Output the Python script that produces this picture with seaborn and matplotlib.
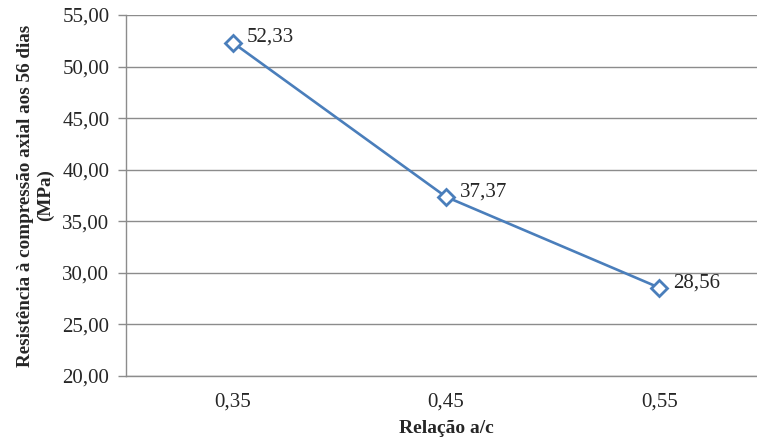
import matplotlib
matplotlib.use("Agg")
import matplotlib.pyplot as plt
import seaborn as sns
import pandas as pd

# Water/cement ratio categories and 56-day axial compressive strength (MPa)
relacao = ["0,35", "0,45", "0,55"]
resistencia = [52.33, 37.37, 28.56]
y_ticks = [20, 25, 30, 35, 40, 45, 50, 55]

df = pd.DataFrame({"pos": range(len(relacao)), "relacao": relacao, "resistencia": resistencia})

sns.set_style("white")
plt.rcParams["font.family"] = ["Liberation Serif", "DejaVu Serif"]

W, H = 757, 440
fig = plt.figure(figsize=(W / 100, H / 100), dpi=100)
ax = fig.add_axes([126 / W, 1 - 376 / H, (766 - 126) / W, (376 - 15) / H])

grid_col = "#8C8C8C"
line_col = "#4A7EBB"
fs = 15

sns.lineplot(data=df, x="pos", y="resistencia", ax=ax, color=line_col, linewidth=1.9,
             marker="D", markersize=8, markerfacecolor="white",
             markeredgecolor=line_col, markeredgewidth=2, zorder=3)

ax.set_ylim(20, 55)
ax.set_xlim(-0.5, len(relacao) - 0.5)
ax.set_yticks(y_ticks)
ax.set_yticklabels([f"{v:.2f}".replace(".", ",") for v in y_ticks], fontsize=fs)
ax.yaxis.grid(True, color=grid_col, linewidth=1)
ax.set_axisbelow(True)

# Category labels at centres, tick marks at category boundaries
ax.set_xticks(range(len(relacao)))
ax.set_xticklabels(relacao, fontsize=fs)
ax.set_xticks([i - 0.5 for i in range(len(relacao) + 1)], minor=True)
ax.tick_params(axis="x", which="major", length=0, pad=12)
ax.tick_params(axis="x", which="minor", length=6, width=1, color=grid_col, direction="out")
ax.tick_params(axis="y", length=6, width=1, color=grid_col, direction="out", pad=6, left=True)

for side in ["top", "right"]:
    ax.spines[side].set_visible(False)
for side in ["left", "bottom"]:
    ax.spines[side].set_color(grid_col)
    ax.spines[side].set_linewidth(1)

for i, v in enumerate(resistencia):
    ax.annotate(f"{v:.2f}".replace(".", ","), xy=(i, v), xytext=(14, 5),
                textcoords="offset pixels", ha="left", va="center", fontsize=fs)

ax.set_xlabel("Relação a/c", fontsize=14, fontweight="bold", labelpad=6)
ax.set_ylabel("Resistência à compressão axial aos 56 dias\n(MPa)", fontsize=13.8,
              fontweight="bold", labelpad=6, linespacing=1.2)

fig.savefig("out.png", dpi=100)
